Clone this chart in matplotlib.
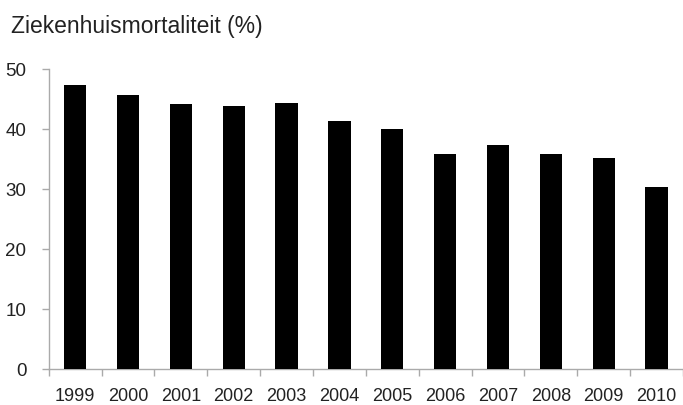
import matplotlib
matplotlib.use("Agg")
import matplotlib.pyplot as plt
import numpy as np

years = ["1999", "2000", "2001", "2002", "2003", "2004", "2005", "2006", "2007", "2008", "2009", "2010"]
mortality = [47.4, 45.7, 44.1, 43.9, 44.4, 41.3, 40.0, 35.9, 37.4, 35.9, 35.2, 30.3]
yticks = [0, 10, 20, 30, 40, 50]
title = "Ziekenhuismortaliteit (%)"

plt.rcParams['font.family'] = ['Liberation Sans', 'DejaVu Sans']

fig = plt.figure(figsize=(6.83, 4.06), dpi=100)
ax = fig.add_axes([0.0713, 0.0887, 0.9287, 0.739])

x = np.arange(len(years))
ax.bar(x, mortality, width=0.42, color='black', zorder=3)

ax.set_xlim(-0.5, len(years) - 0.5)
ax.set_ylim(0, 50)
ax.set_yticks(yticks)
ax.set_yticklabels([str(v) for v in yticks])

# x ticks at category boundaries, labels at centers
ax.set_xticks(np.arange(len(years) + 1) - 0.5)
ax.set_xticklabels([])
ax.set_xticks(x, minor=True)
ax.set_xticklabels(years, minor=True)
ax.tick_params(axis='x', which='minor', length=0, pad=13, labelsize=13, labelcolor='#222222')
ax.tick_params(axis='x', which='major', length=5, color='#aaaaaa', width=1)
ax.tick_params(axis='y', length=5, color='#aaaaaa', width=1, pad=11, labelsize=13.5, labelcolor='#222222')

for s in ['top', 'right']:
    ax.spines[s].set_visible(False)
for s in ['left', 'bottom']:
    ax.spines[s].set_color('#aaaaaa')
    ax.spines[s].set_linewidth(1)

fig.text(11 / 683, 1 - 27 / 406, title, fontsize=16.5, color='#222222', ha='left', va='center')

fig.savefig("out.png", dpi=100)
